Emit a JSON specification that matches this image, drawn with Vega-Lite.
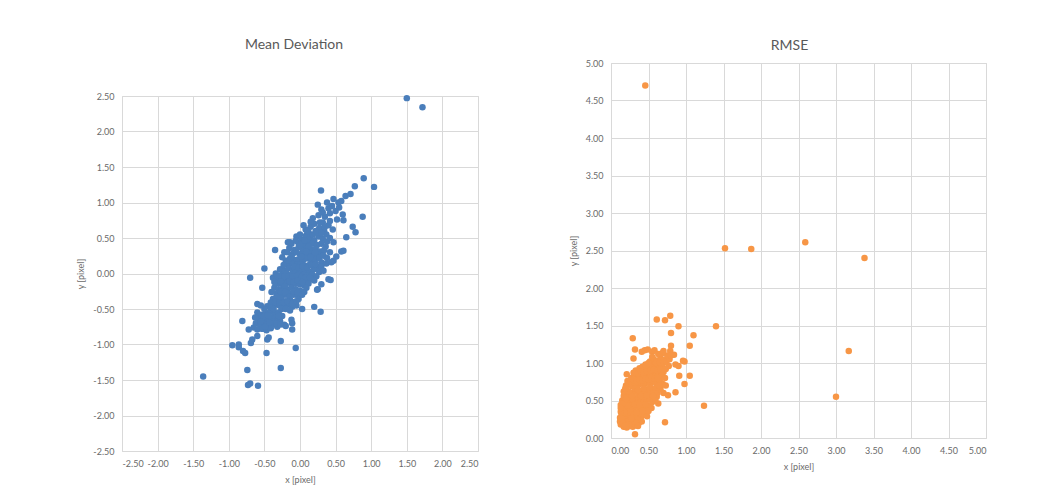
{
"$schema": "https://vega.github.io/schema/vega-lite/v6.json",
"background": "white",
"padding": {"top": 38, "left": 76, "right": 0, "bottom": 0},
"spacing": 89,
"config": {
 "font": "Lato",
 "view": {"stroke": "#d9d9d9", "strokeWidth": 1},
 "title": {"font": "Lato", "fontSize": 14, "fontWeight": "normal", "color": "#595959", "anchor": "middle"},
 "axis": {"domain": false, "ticks": false, "gridColor": "#d9d9d9", "gridWidth": 1, "labelColor": "#6a6a6a", "labelFontSize": 9, "labelPadding": 8, "titleColor": "#6a6a6a", "titleFontSize": 9, "titleFontWeight": "normal", "titlePadding": 7, "labelFont": "Lato", "titleFont": "Lato", "labelExpr": "replace(datum.label, '\u2212', '-')"}
},
"datasets": {
 "md": [
  {"x":0.08,"y":0.62},{"x":0.15,"y":0.66},{"x":0.2,"y":0.7},{"x":0.12,"y":0.58},{"x":0.27,"y":0.64},{"x":0.22,"y":0.6},{"x":0.32,"y":0.72},{"x":0.05,"y":0.68},{"x":0.18,"y":0.78},{"x":0.26,"y":0.82},{"x":0.35,"y":0.8},{"x":0.3,"y":0.9},{"x":0.42,"y":0.85},{"x":0.45,"y":0.95},{"x":0.5,"y":0.88},{"x":0.38,"y":1.0},{"x":0.55,"y":0.93},{"x":0.47,"y":1.05},{"x":0.58,"y":1.02},{"x":0.6,"y":0.83},{"x":0.52,"y":0.76},{"x":0.4,"y":0.68},{"x":0.34,"y":0.6},
  {"x":-0.05,"y":0.52},{"x":0.02,"y":0.48},{"x":0.08,"y":0.53},{"x":0.14,"y":0.5},{"x":0.2,"y":0.47},{"x":0.26,"y":0.52},{"x":0.32,"y":0.49},{"x":0.38,"y":0.45},{"x":0.11,"y":0.44},{"x":0.05,"y":0.4},{"x":-0.02,"y":0.43},{"x":0.17,"y":0.42},{"x":0.24,"y":0.4},{"x":0.3,"y":0.42},{"x":0.36,"y":0.38},
  {"x":-0.15,"y":0.36},{"x":-0.08,"y":0.33},{"x":-0.02,"y":0.37},{"x":0.04,"y":0.32},{"x":0.1,"y":0.36},{"x":0.16,"y":0.33},{"x":0.22,"y":0.35},{"x":0.28,"y":0.31},{"x":0.34,"y":0.33},{"x":0.42,"y":0.3},{"x":-0.1,"y":0.28},{"x":0.0,"y":0.27},{"x":0.07,"y":0.26},{"x":0.13,"y":0.28},{"x":0.19,"y":0.25},{"x":0.25,"y":0.27},{"x":-0.22,"y":0.3},{"x":-0.25,"y":0.23},
  {"x":-0.2,"y":0.18},{"x":-0.14,"y":0.21},{"x":-0.08,"y":0.19},{"x":-0.02,"y":0.2},{"x":0.04,"y":0.18},{"x":0.1,"y":0.21},{"x":0.16,"y":0.17},{"x":0.22,"y":0.2},{"x":0.3,"y":0.16},{"x":0.37,"y":0.14},{"x":-0.17,"y":0.12},{"x":-0.11,"y":0.14},{"x":-0.05,"y":0.12},{"x":0.01,"y":0.13},{"x":0.07,"y":0.11},{"x":0.13,"y":0.12},{"x":0.19,"y":0.1},{"x":0.26,"y":0.09},
  {"x":-0.28,"y":0.06},{"x":-0.22,"y":0.04},{"x":-0.16,"y":0.07},{"x":-0.1,"y":0.05},{"x":-0.04,"y":0.06},{"x":0.02,"y":0.04},{"x":0.08,"y":0.05},{"x":0.14,"y":0.03},{"x":0.2,"y":0.06},{"x":0.27,"y":0.02},{"x":-0.25,"y":-0.01},{"x":-0.19,"y":0.0},{"x":-0.13,"y":-0.02},{"x":-0.07,"y":0.0},{"x":-0.01,"y":-0.01},{"x":0.05,"y":-0.02},{"x":0.11,"y":-0.03},{"x":0.17,"y":-0.01},{"x":0.23,"y":-0.04},
  {"x":-0.38,"y":-0.06},{"x":-0.32,"y":-0.08},{"x":-0.26,"y":-0.07},{"x":-0.2,"y":-0.09},{"x":-0.14,"y":-0.07},{"x":-0.08,"y":-0.08},{"x":-0.02,"y":-0.06},{"x":0.04,"y":-0.09},{"x":0.1,"y":-0.1},{"x":0.16,"y":-0.08},{"x":-0.3,"y":-0.14},{"x":-0.24,"y":-0.15},{"x":-0.18,"y":-0.13},{"x":-0.12,"y":-0.16},{"x":-0.06,"y":-0.14},{"x":0.0,"y":-0.15},{"x":0.06,"y":-0.17},{"x":0.12,"y":-0.14},
  {"x":-0.36,"y":-0.2},{"x":-0.3,"y":-0.22},{"x":-0.24,"y":-0.21},{"x":-0.18,"y":-0.23},{"x":-0.12,"y":-0.2},{"x":-0.06,"y":-0.22},{"x":0.0,"y":-0.24},{"x":0.06,"y":-0.26},{"x":-0.33,"y":-0.28},{"x":-0.27,"y":-0.29},{"x":-0.21,"y":-0.3},{"x":-0.15,"y":-0.28},{"x":-0.09,"y":-0.3},{"x":-0.03,"y":-0.31},
  {"x":-0.38,"y":-0.36},{"x":-0.32,"y":-0.38},{"x":-0.26,"y":-0.36},{"x":-0.2,"y":-0.39},{"x":-0.14,"y":-0.37},{"x":-0.08,"y":-0.4},{"x":-0.02,"y":-0.36},{"x":-0.35,"y":-0.44},{"x":-0.29,"y":-0.45},{"x":-0.23,"y":-0.46},{"x":-0.17,"y":-0.44},{"x":-0.11,"y":-0.47},{"x":-0.05,"y":-0.45},
  {"x":-0.6,"y":-0.55},{"x":-0.54,"y":-0.58},{"x":-0.48,"y":-0.56},{"x":-0.42,"y":-0.54},{"x":-0.36,"y":-0.57},{"x":-0.3,"y":-0.55},{"x":-0.25,"y":-0.6},{"x":-0.58,"y":-0.63},{"x":-0.52,"y":-0.66},{"x":-0.46,"y":-0.64},{"x":-0.4,"y":-0.62},{"x":-0.34,"y":-0.65},{"x":-0.28,"y":-0.67},{"x":-0.62,"y":-0.7},{"x":-0.56,"y":-0.73},{"x":-0.5,"y":-0.71},{"x":-0.44,"y":-0.74},{"x":-0.38,"y":-0.72},{"x":-0.32,"y":-0.75},{"x":-0.65,"y":-0.76},{"x":-0.6,"y":-0.79},{"x":-0.53,"y":-0.78},{"x":-0.47,"y":-0.8},{"x":-0.41,"y":-0.77},{"x":-0.35,"y":-0.63},{"x":-0.22,"y":-0.72},{"x":-0.2,"y":-0.74},
  {"x":-0.6,"y":-0.43},{"x":-0.46,"y":-0.46},{"x":-0.53,"y":-0.2},{"x":-0.7,"y":-0.06},
  {"x":-0.12,"y":0.42},{"x":-0.06,"y":0.46},{"x":0.0,"y":0.4},{"x":0.06,"y":0.47},{"x":0.12,"y":0.38},{"x":0.18,"y":0.55},{"x":0.24,"y":0.58},{"x":0.1,"y":0.6},{"x":0.28,"y":0.72},{"x":0.35,"y":0.66},{"x":0.42,"y":0.74},{"x":0.46,"y":0.62},{"x":0.37,"y":0.55},{"x":0.42,"y":0.5},{"x":0.47,"y":0.44},{"x":0.3,"y":0.57},
  {"x":-0.18,"y":0.3},{"x":-0.12,"y":0.24},{"x":-0.05,"y":0.3},{"x":0.02,"y":0.24},{"x":0.09,"y":0.31},{"x":0.15,"y":0.23},{"x":0.21,"y":0.3},{"x":0.27,"y":0.22},{"x":0.33,"y":0.25},{"x":0.38,"y":0.22},
  {"x":-0.23,"y":0.12},{"x":-0.17,"y":0.18},{"x":-0.08,"y":0.1},{"x":-0.02,"y":0.08},{"x":0.04,"y":0.1},{"x":0.1,"y":0.08},{"x":0.16,"y":0.12},{"x":0.22,"y":0.13},{"x":0.3,"y":0.1},{"x":0.33,"y":0.04},
  {"x":-0.34,"y":0.0},{"x":-0.29,"y":-0.03},{"x":-0.22,"y":-0.04},{"x":-0.16,"y":-0.04},{"x":-0.1,"y":-0.04},{"x":-0.04,"y":-0.03},{"x":0.02,"y":-0.05},{"x":0.08,"y":-0.06},{"x":0.14,"y":-0.06},{"x":0.2,"y":-0.1},
  {"x":-0.36,"y":-0.12},{"x":-0.27,"y":-0.11},{"x":-0.21,"y":-0.18},{"x":-0.15,"y":-0.11},{"x":-0.09,"y":-0.12},{"x":-0.03,"y":-0.1},{"x":0.03,"y":-0.12},{"x":0.09,"y":-0.2},{"x":-0.4,"y":-0.26},{"x":-0.33,"y":-0.33},{"x":-0.27,"y":-0.25},{"x":-0.21,"y":-0.26},{"x":-0.15,"y":-0.33},{"x":-0.09,"y":-0.25},{"x":-0.03,"y":-0.27},{"x":0.03,"y":-0.3},
  {"x":-0.41,"y":-0.41},{"x":-0.35,"y":-0.4},{"x":-0.29,"y":-0.41},{"x":-0.23,"y":-0.41},{"x":-0.17,"y":-0.4},{"x":-0.11,"y":-0.43},{"x":-0.05,"y":-0.39},{"x":-0.4,"y":-0.48},{"x":-0.26,"y":-0.5},{"x":-0.2,"y":-0.5},{"x":-0.14,"y":-0.52},
  {"x":-0.57,"y":-0.6},{"x":-0.51,"y":-0.61},{"x":-0.45,"y":-0.59},{"x":-0.39,"y":-0.68},{"x":-0.33,"y":-0.7},{"x":-0.27,"y":-0.72},{"x":-0.55,"y":-0.68},{"x":-0.49,"y":-0.75},{"x":-0.43,"y":-0.69},{"x":-0.63,"y":-0.62},{"x":-0.3,"y":-0.6},{"x":-0.37,"y":-0.5},{"x":-0.5,"y":-0.5},{"x":-0.55,"y":-0.45},
  {"x":-1.36,"y":-1.45},{"x":-0.95,"y":-1.01},{"x":-0.86,"y":-1.0},{"x":-0.86,"y":-1.04},{"x":-0.81,"y":-0.67},{"x":-0.8,"y":-1.09},{"x":-0.77,"y":-1.12},{"x":-0.74,"y":-1.36},{"x":-0.73,"y":-1.57},{"x":-0.7,"y":-1.55},{"x":-0.59,"y":-1.58},{"x":-0.27,"y":-1.33},{"x":-0.06,"y":-1.05},{"x":-0.47,"y":-1.12},{"x":-0.27,"y":-0.95},{"x":-0.44,"y":-0.9},{"x":-0.46,"y":-0.93},{"x":-0.11,"y":-0.79},{"x":-0.12,"y":-0.65},{"x":-0.11,"y":-0.7},{"x":0.03,"y":-0.5},{"x":0.2,"y":-0.47},{"x":0.29,"y":-0.54},{"x":0.24,"y":-0.23},{"x":0.43,"y":-0.09},{"x":0.3,"y":-0.15},{"x":-0.69,"y":-0.98},{"x":-0.67,"y":-0.93},{"x":-0.6,"y":-0.88},{"x":-0.72,"y":-0.79},{"x":0.25,"y":-0.22},{"x":-0.5,"y":0.07},{"x":-0.35,"y":0.33},{"x":-0.17,"y":0.44},{"x":-0.14,"y":0.44},{"x":0.0,"y":0.55},{"x":0.15,"y":0.73},{"x":0.32,"y":0.86},{"x":0.895,"y":1.34},{"x":1.04,"y":1.22},{"x":0.295,"y":1.17},{"x":0.77,"y":1.23},{"x":0.64,"y":1.09},{"x":0.71,"y":1.12},{"x":0.54,"y":1.0},{"x":0.25,"y":0.97},{"x":0.4,"y":0.92},{"x":0.88,"y":0.8},{"x":0.78,"y":0.58},{"x":0.74,"y":0.66},{"x":0.61,"y":0.75},{"x":0.65,"y":0.51},{"x":0.61,"y":0.32},{"x":0.51,"y":0.24},{"x":0.47,"y":0.18},{"x":0.4,"y":-0.08},{"x":0.58,"y":0.31},{"x":0.44,"y":0.16},{"x":1.5,"y":2.47},{"x":1.72,"y":2.34}
 ],
 "rmse": [
  {"x":0.457,"y":4.7},{"x":1.52,"y":2.53},{"x":1.87,"y":2.52},{"x":2.59,"y":2.61},{"x":3.38,"y":2.4},{"x":3.17,"y":1.16},{"x":3.0,"y":0.55},{"x":1.4,"y":1.49},{"x":1.24,"y":0.43},{"x":1.1,"y":1.37},{"x":1.05,"y":1.23},{"x":1.05,"y":0.83},{"x":0.98,"y":1.02},{"x":0.98,"y":0.72},{"x":0.91,"y":0.83},{"x":0.9,"y":1.49},{"x":0.79,"y":1.63},{"x":0.72,"y":1.57},{"x":0.61,"y":1.58},{"x":0.8,"y":1.4},{"x":0.8,"y":1.23},{"x":0.29,"y":1.33},{"x":0.32,"y":1.18},{"x":0.3,"y":1.06},{"x":0.21,"y":0.85},{"x":0.32,"y":0.05},{"x":0.72,"y":0.21},{"x":0.41,"y":1.15},{"x":0.45,"y":1.17},{"x":0.49,"y":1.18},{"x":0.79,"y":1.16},{"x":0.84,"y":1.11},{"x":0.86,"y":0.98},{"x":0.86,"y":0.61},{"x":0.76,"y":0.57},{"x":0.96,"y":1.03},{"x":0.9,"y":0.96},{"x":0.61,"y":0.55},{"x":0.63,"y":0.46},
  {"x":0.13,"y":0.18},{"x":0.17,"y":0.15},{"x":0.21,"y":0.14},{"x":0.25,"y":0.16},{"x":0.29,"y":0.15},{"x":0.33,"y":0.17},{"x":0.37,"y":0.2},{"x":0.41,"y":0.22},{"x":0.15,"y":0.22},{"x":0.19,"y":0.24},
  {"x":0.12,"y":0.27},{"x":0.16,"y":0.3},{"x":0.2,"y":0.28},{"x":0.24,"y":0.26},{"x":0.28,"y":0.29},{"x":0.32,"y":0.27},{"x":0.36,"y":0.3},{"x":0.4,"y":0.28},{"x":0.44,"y":0.31},{"x":0.48,"y":0.29},{"x":0.22,"y":0.33},{"x":0.3,"y":0.35},
  {"x":0.14,"y":0.37},{"x":0.18,"y":0.4},{"x":0.22,"y":0.38},{"x":0.26,"y":0.41},{"x":0.3,"y":0.39},{"x":0.34,"y":0.42},{"x":0.38,"y":0.38},{"x":0.42,"y":0.41},{"x":0.46,"y":0.39},{"x":0.5,"y":0.43},{"x":0.54,"y":0.4},{"x":0.13,"y":0.44},
  {"x":0.15,"y":0.5},{"x":0.19,"y":0.47},{"x":0.23,"y":0.49},{"x":0.27,"y":0.46},{"x":0.31,"y":0.5},{"x":0.35,"y":0.48},{"x":0.39,"y":0.51},{"x":0.43,"y":0.47},{"x":0.47,"y":0.5},{"x":0.51,"y":0.52},{"x":0.55,"y":0.48},{"x":0.59,"y":0.5},{"x":0.17,"y":0.56},{"x":0.21,"y":0.58},{"x":0.25,"y":0.55},
  {"x":0.17,"y":0.62},{"x":0.21,"y":0.64},{"x":0.29,"y":0.6},{"x":0.33,"y":0.62},{"x":0.37,"y":0.59},{"x":0.41,"y":0.63},{"x":0.45,"y":0.6},{"x":0.49,"y":0.64},{"x":0.53,"y":0.61},{"x":0.57,"y":0.63},{"x":0.62,"y":0.6},{"x":0.66,"y":0.65},{"x":0.7,"y":0.6},
  {"x":0.2,"y":0.7},{"x":0.24,"y":0.72},{"x":0.28,"y":0.69},{"x":0.32,"y":0.73},{"x":0.36,"y":0.7},{"x":0.4,"y":0.74},{"x":0.44,"y":0.71},{"x":0.48,"y":0.75},{"x":0.52,"y":0.72},{"x":0.56,"y":0.76},{"x":0.6,"y":0.73},{"x":0.65,"y":0.77},{"x":0.69,"y":0.72},{"x":0.73,"y":0.7},
  {"x":0.27,"y":0.8},{"x":0.31,"y":0.83},{"x":0.35,"y":0.8},{"x":0.39,"y":0.84},{"x":0.43,"y":0.81},{"x":0.47,"y":0.85},{"x":0.51,"y":0.82},{"x":0.55,"y":0.86},{"x":0.59,"y":0.83},{"x":0.63,"y":0.87},{"x":0.68,"y":0.84},{"x":0.72,"y":0.8},
  {"x":0.33,"y":0.9},{"x":0.38,"y":0.93},{"x":0.42,"y":0.95},{"x":0.46,"y":0.91},{"x":0.5,"y":0.94},{"x":0.55,"y":0.97},{"x":0.6,"y":0.93},{"x":0.64,"y":0.98},{"x":0.68,"y":0.95},{"x":0.73,"y":0.92},{"x":0.77,"y":0.96},
  {"x":0.52,"y":1.02},{"x":0.57,"y":1.05},{"x":0.62,"y":1.03},{"x":0.66,"y":1.07},{"x":0.71,"y":1.04},{"x":0.75,"y":1.1},{"x":0.68,"y":1.13},{"x":0.63,"y":1.12},{"x":0.7,"y":1.16},{"x":0.55,"y":1.15},{"x":0.58,"y":1.17},
  {"x":0.14,"y":0.32},{"x":0.16,"y":0.42},{"x":0.12,"y":0.22},{"x":0.18,"y":0.2},{"x":0.2,"y":0.35},{"x":0.26,"y":0.36},{"x":0.24,"y":0.44},{"x":0.28,"y":0.52},{"x":0.32,"y":0.45},{"x":0.36,"y":0.55},{"x":0.4,"y":0.33},{"x":0.44,"y":0.55},{"x":0.23,"y":0.22},{"x":0.27,"y":0.23},{"x":0.31,"y":0.22},{"x":0.35,"y":0.25},
  {"x":0.14,"y":0.26},{"x":0.18,"y":0.34},{"x":0.22,"y":0.43},{"x":0.26,"y":0.3},{"x":0.3,"y":0.31},{"x":0.34,"y":0.34},{"x":0.38,"y":0.44},{"x":0.42,"y":0.36},{"x":0.46,"y":0.45},{"x":0.5,"y":0.36},{"x":0.16,"y":0.46},{"x":0.2,"y":0.52},{"x":0.24,"y":0.62},{"x":0.28,"y":0.56},{"x":0.32,"y":0.66},{"x":0.36,"y":0.64},{"x":0.4,"y":0.56},{"x":0.44,"y":0.66},{"x":0.48,"y":0.57},{"x":0.52,"y":0.67},{"x":0.56,"y":0.56},{"x":0.6,"y":0.67},{"x":0.64,"y":0.7},{"x":0.19,"y":0.66},{"x":0.22,"y":0.76},{"x":0.26,"y":0.76},{"x":0.3,"y":0.78},{"x":0.34,"y":0.76},{"x":0.38,"y":0.78},{"x":0.42,"y":0.77},{"x":0.46,"y":0.79},{"x":0.5,"y":0.78},{"x":0.54,"y":0.8},{"x":0.58,"y":0.79},{"x":0.62,"y":0.8},{"x":0.3,"y":0.87},{"x":0.36,"y":0.86},{"x":0.4,"y":0.89},{"x":0.44,"y":0.87},{"x":0.48,"y":0.89},{"x":0.53,"y":0.9},{"x":0.57,"y":0.91},{"x":0.62,"y":0.9},{"x":0.66,"y":0.91},{"x":0.7,"y":0.88},{"x":0.46,"y":0.98},{"x":0.5,"y":1.0},{"x":0.55,"y":1.08},{"x":0.6,"y":1.0},{"x":0.65,"y":1.01},{"x":0.7,"y":1.0},{"x":0.74,"y":1.02},{"x":0.78,"y":1.05},{"x":0.8,"y":1.1},{"x":0.16,"y":0.2},{"x":0.24,"y":0.2},{"x":0.28,"y":0.19},{"x":0.32,"y":0.21},{"x":0.36,"y":0.16},{"x":0.13,"y":0.35},{"x":0.13,"y":0.4},{"x":0.2,"y":0.17},{"x":0.27,"y":0.26}
 ]
},
"hconcat": [
 {
  "spacing": 20,
  "vconcat": [
   {
    "width": 356, "height": 8,
    "title": {"text": "Mean Deviation", "offset": 11, "dx": -6},
    "data": {"values": [{}]},
    "mark": {"type": "point", "opacity": 0},
    "view": {"stroke": null}
   },
   {
    "width": 356, "height": 355,
    "data": {"name": "md"},
    "mark": {"type": "circle", "size": 42, "opacity": 1, "color": "#4a7ebb"},
    "encoding": {
     "x": {"field": "x", "type": "quantitative", "scale": {"domain": [-2.5, 2.5], "nice": false, "zero": false},
       "axis": {"title": "x [pixel]", "format": ".2f", "values": [-2.5,-2,-1.5,-1,-0.5,0,0.5,1,1.5,2,2.5]}},
     "y": {"field": "y", "type": "quantitative", "scale": {"domain": [-2.5, 2.5], "nice": false, "zero": false},
       "axis": {"title": "y [pixel]", "format": ".2f", "values": [-2.5,-2,-1.5,-1,-0.5,0,0.5,1,1.5,2,2.5]}}
    }
   }
  ]
 },
 {
  "width": 375, "height": 375,
  "title": {"text": "RMSE", "offset": 6, "dx": -9},
  "data": {"name": "rmse"},
  "mark": {"type": "circle", "size": 42, "opacity": 1, "color": "#f79646"},
  "encoding": {
   "x": {"field": "x", "type": "quantitative", "scale": {"domain": [0, 5], "nice": false},
     "axis": {"title": "x [pixel]", "format": ".2f", "values": [0,0.5,1,1.5,2,2.5,3,3.5,4,4.5,5]}},
   "y": {"field": "y", "type": "quantitative", "scale": {"domain": [0, 5], "nice": false},
     "axis": {"title": "y [pixel]", "format": ".2f", "values": [0,0.5,1,1.5,2,2.5,3,3.5,4,4.5,5]}}
  }
 }
]
}
